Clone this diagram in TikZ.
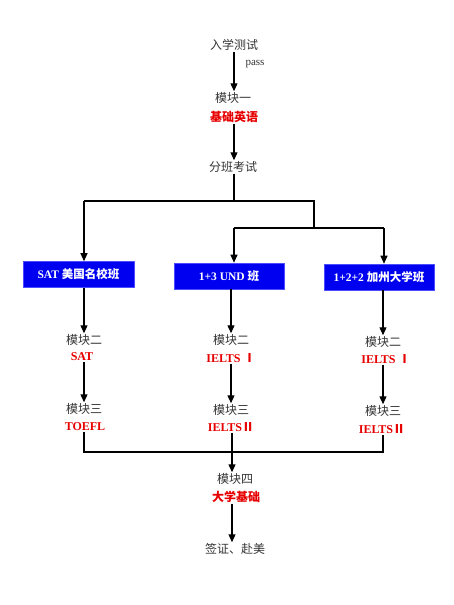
\documentclass[tikz,border=0pt]{standalone}
\usepackage{fontspec}
\setmainfont{Liberation Serif}
\newfontfamily\cjk{Noto Sans CJK SC}
\usetikzlibrary{arrows.meta}
\definecolor{boxblue}{RGB}{0,0,240}
\definecolor{txtred}{RGB}{230,0,0}
\begin{document}
\begin{tikzpicture}[x=1pt,y=-1pt,
  lbl/.style={inner sep=1pt,font=\cjk\fontsize{12}{13}\selectfont,text=black!80},
  red/.style={inner sep=1pt,font=\bfseries\fontsize{12}{13}\selectfont,text=txtred},
  cls/.style={draw=blue!70!white,line width=0.6pt,fill=boxblue,text=white,font=\bfseries\fontsize{11.5}{13}\selectfont,minimum height=26pt,inner sep=0pt},
  conn/.style={line width=1.2pt,black},
  arr/.style={conn,-{Triangle[length=8pt,width=7pt]}}]
\useasboundingbox (0,0) rectangle (454,605);
% top
\node[lbl] (n0) at (234,45) {入学测试};
\node[inner sep=1pt,font=\fontsize{11}{12}\selectfont,text=black!80] (pass) at (255,64) {pass};
\node[lbl] (m1) at (233,98) {模块一};
\node[red] (m1r) at (234,117) {\cjk 基础英语};
\node[lbl] (fb) at (233,167) {分班考试};
% class boxes
\node[cls,minimum width=111pt] (b1) at (78.5,274.5) {SAT {\cjk 美国名校班}};
\node[cls,minimum width=110pt] (b2) at (229,276) {1+3 UND {\cjk 班}};
\node[cls,minimum width=110pt] (b3) at (379,277) {1+2+2 {\cjk 加州大学班}};
% columns
\node[lbl] (m2a) at (84,340) {模块二};
\node[red] (s1) at (82,357) {SAT};
\node[lbl] (m3a) at (84,409) {模块三};
\node[red] (t1) at (85,427) {TOEFL};
\node[lbl] (m2b) at (231,340) {模块二};
\node[red] (s2) at (231,358) {IELTS {\cjk Ⅰ}};
\node[lbl] (m3b) at (231,410) {模块三};
\node[red] (t2) at (231,427) {IELTS{\cjk Ⅱ}};
\node[lbl] (m2c) at (383,342) {模块二};
\node[red] (s3) at (386,359) {IELTS {\cjk Ⅰ}};
\node[lbl] (m3c) at (383,411) {模块三};
\node[red] (t3) at (382,429) {IELTS{\cjk Ⅱ}};
% bottom
\node[lbl] (m4) at (235,479) {模块四};
\node[red] (m4r) at (236,497) {\cjk 大学基础};
\node[lbl] (fin) at (235,549) {签证、赴美};
% junction coordinates
\coordinate (cx) at (234,0);
\coordinate (cy) at (232,0);
\coordinate (j0) at (234,201);
\coordinate (jl) at (84,201);
\coordinate (jr) at (314,201);
\coordinate (jr2) at (314,228);
\coordinate (jm) at (234,228);
\coordinate (jn) at (384,228);
\coordinate (k1) at (84,452);
\coordinate (k3) at (383,452);
% connectors
\draw[arr] (n0.south -| cx) -- (m1.north -| cx);
\draw[arr] (m1r.south -| cx) -- (fb.north -| cx);
\draw[conn] (fb.south -| cx) -- (j0);
\draw[conn] (jl) -- (jr) -- (jr2);
\draw[arr] (jl) -- (jl |- b1.north);
\draw[conn] (jm) -- (jn);
\draw[arr] (jm) -- (jm |- b2.north);
\draw[arr] (jn) -- (jn |- b3.north);
\draw[arr] (b1.south -| m2a) -- (m2a.north);
\draw[arr] (b2.south -| m2b) -- (m2b.north);
\draw[arr] (b3.south -| m2c) -- (m2c.north);
\draw[arr] (s1.south -| m3a) -- (m3a.north);
\draw[arr] (s2.south -| m3b) -- (m3b.north);
\draw[arr] (s3.south -| m3c) -- (m3c.north);
\draw[conn] (t1.south -| k1) -- (k1) -- (k3) -- (t3.south -| k3);
\draw[arr] (t2.south -| cy) -- (m4.north -| cy);
\draw[arr] (m4r.south -| cy) -- (fin.north -| cy);
\end{tikzpicture}
\end{document}
